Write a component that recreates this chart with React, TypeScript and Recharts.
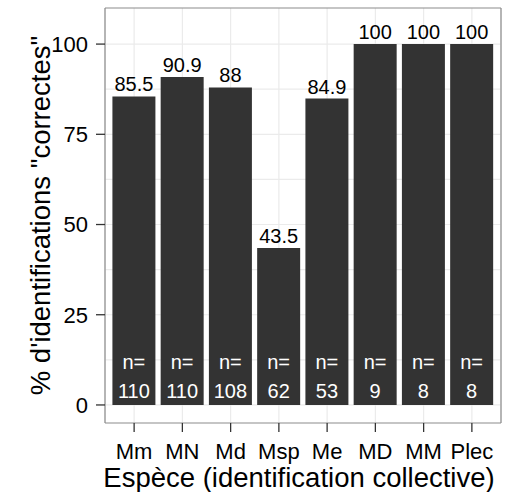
import React from 'react';
import { BarChart, Bar, XAxis, YAxis, CartesianGrid, LabelList, Label } from 'recharts';

const categories = ['Mm', 'MN', 'Md', 'Msp', 'Me', 'MD', 'MM', 'Plec'];
const percentCorrect = [85.5, 90.9, 88, 43.5, 84.9, 100, 100, 100];
const counts = [110, 110, 108, 62, 53, 9, 8, 8];
const yTicks = [0, 25, 50, 75, 100];
const yGridValues = [0, 12.5, 25, 37.5, 50, 62.5, 75, 87.5, 100];
const nLabelLevels = [12, 4];

const data = categories.map((cat, i) => ({ cat, pct: percentCorrect[i], n: counts[i] }));

const FONT = '"Liberation Sans", Arial, Helvetica, sans-serif';
const GRID = '#ebebeb';

const renderCount = (props: any) => {
  const { x, y, width, height, index, value } = props;
  const pct = percentCorrect[index];
  const unit = height / pct;
  const bottom = y + height;
  const cx = x + width / 2;
  return (
    <g>
      <text x={cx} y={bottom - nLabelLevels[0] * unit} dy="0.35em" textAnchor="middle" fill="#ffffff" fontSize={20}>
        n=
      </text>
      <text x={cx} y={bottom - nLabelLevels[1] * unit} dy="0.35em" textAnchor="middle" fill="#ffffff" fontSize={20}>
        {value}
      </text>
    </g>
  );
};

const yTitle = (props: any) => {
  const vb = props.viewBox;
  const cx = vb.x + 40;
  const cy = vb.y + vb.height / 2;
  return (
    <text x={cx} y={cy} dy="0.35em" textAnchor="middle" fontSize={27.5} fill="#000" transform={`rotate(-90 ${cx} ${cy})`}>
      % d'identifications "correctes"
    </text>
  );
};

const xTitle = (props: any) => {
  const vb = props.viewBox;
  return (
    <text x={vb.x + vb.width / 2 - 4} y={vb.y + vb.height - 5} textAnchor="middle" fontSize={27.5} fill="#000">
      Espèce (identification collective)
    </text>
  );
};

export default function App() {
  return (
    <div style={{ position: 'absolute', left: 0, top: 0, width: 520, height: 492, background: '#fff', fontFamily: FONT }}>
      <BarChart width={520} height={492} data={data} margin={{ top: 8, right: 19, bottom: 0, left: 0 }} barCategoryGap="5%">
        <CartesianGrid stroke={GRID} strokeWidth={1.2} {...({ horizontalValues: yGridValues } as any)} />
        <CartesianGrid
          stroke="#8c8c8c"
          strokeWidth={1.2}
          horizontalCoordinatesGenerator={(p: any) => [p.offset.top, p.offset.top + p.offset.height]}
          verticalCoordinatesGenerator={(p: any) => [p.offset.left, p.offset.left + p.offset.width]}
        />
        <XAxis
          dataKey="cat"
          height={69}
          padding={{ left: 5, right: 5 }}
          axisLine={false}
          tickLine={{ stroke: '#333333', strokeWidth: 1.3 }}
          tickSize={9}
          tickMargin={11}
          tick={{ fill: '#000', fontSize: 22 }}
          interval={0}
        >
          <Label content={xTitle} />
        </XAxis>
        <YAxis
          width={105}
          domain={[-5, 110]}
          ticks={yTicks}
          allowDataOverflow
          axisLine={false}
          tickLine={{ stroke: '#333333', strokeWidth: 1.3 }}
          tickSize={9}
          tickMargin={8}
          tick={{ fill: '#000', fontSize: 22 }}
        >
          <Label content={yTitle} />
        </YAxis>
        <Bar dataKey="pct" fill="#333333" isAnimationActive={false}>
          <LabelList dataKey="pct" position="top" offset={5} fill="#000" fontSize={20} />
          <LabelList dataKey="n" content={renderCount} />
        </Bar>
      </BarChart>
    </div>
  );
}
